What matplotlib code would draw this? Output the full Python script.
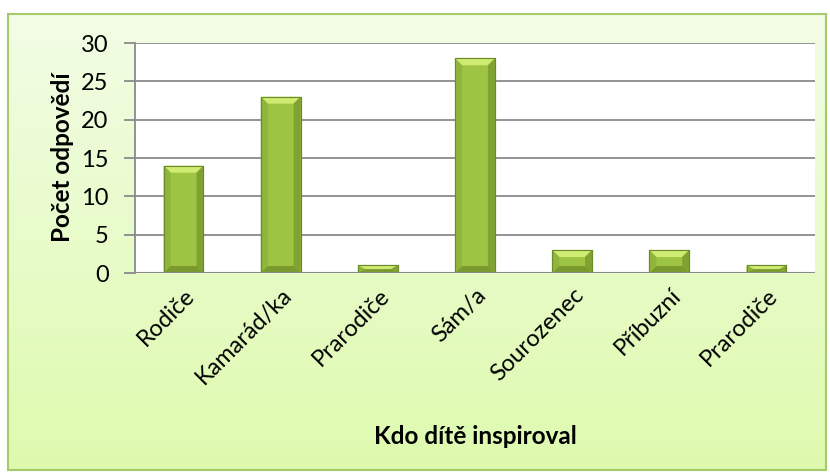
import numpy as np
import matplotlib
matplotlib.use("Agg")
import matplotlib.pyplot as plt
import matplotlib.transforms as mtransforms
from matplotlib.patches import Rectangle, Polygon

kategorie = ["Rodiče", "Kamarád/ka", "Prarodiče", "Sám/a", "Sourozenec", "Příbuzní", "Prarodiče"]
pocty = [14, 23, 1, 28, 3, 3, 1]
y_ticks = [0, 5, 10, 15, 20, 25, 30]

plt.rcParams['font.family'] = ['Lato', 'DejaVu Sans']

W, H = 830, 475
fig = plt.figure(figsize=(W / 100, H / 100), dpi=100)
fig.patch.set_facecolor("white")

# chart frame with gradient
x0, y0, x1, y1 = 8, 14, 826, 470
bg = fig.add_axes([x0 / W, 1 - y1 / H, (x1 - x0) / W, (y1 - y0) / H], zorder=0)
grad = np.linspace(0, 1, 256)[:, None]
top = np.array([0.95, 0.99, 0.90])
bot = np.array([0.87, 0.98, 0.68])
img = top[None, None, :] * (1 - grad[:, :, None]) + bot[None, None, :] * grad[:, :, None]
bg.imshow(img, aspect="auto", extent=[0, 1, 0, 1])
bg.set_xticks([])
bg.set_yticks([])
for s in bg.spines.values():
    s.set_color("#a6c96a")
    s.set_linewidth(1.5)

# plot area
px0, px1, py0, py1 = 135, 815, 43, 273
ax = fig.add_axes([px0 / W, 1 - py1 / H, (px1 - px0) / W, (py1 - py0) / H], zorder=1)
ax.set_facecolor("white")
n = len(kategorie)
x = np.arange(n)
ax.set_xlim(-0.5, n - 0.5)
ax.set_ylim(0, 30)

bw = 0.41
bars = ax.bar(x, pocty, width=bw, color="#9dc443", edgecolor="#6f8f2a", linewidth=0.8, zorder=3)

# bevel effect
bev_px = 7
dx = bev_px / (px1 - px0) * n
dy = bev_px / (py1 - py0) * 30
for b in bars:
    bx, by, w_, h_ = b.get_x(), b.get_y(), b.get_width(), b.get_height()
    d_y = min(dy, h_ / 2)
    d_x = min(dx, w_ / 2)
    top_poly = [(bx, by + h_), (bx + w_, by + h_), (bx + w_ - d_x, by + h_ - d_y), (bx + d_x, by + h_ - d_y)]
    ax.add_patch(Polygon(top_poly, closed=True, facecolor="#cfeb72", edgecolor="none", zorder=4))
    left_poly = [(bx, by), (bx, by + h_), (bx + d_x, by + h_ - d_y), (bx + d_x, by + d_y)]
    ax.add_patch(Polygon(left_poly, closed=True, facecolor="#8fb53b", edgecolor="none", zorder=4))
    right_poly = [(bx + w_, by), (bx + w_, by + h_), (bx + w_ - d_x, by + h_ - d_y), (bx + w_ - d_x, by + d_y)]
    ax.add_patch(Polygon(right_poly, closed=True, facecolor="#80a232", edgecolor="none", zorder=4))
    bot_poly = [(bx, by), (bx + w_, by), (bx + w_ - d_x, by + d_y), (bx + d_x, by + d_y)]
    ax.add_patch(Polygon(bot_poly, closed=True, facecolor="#7a9a2e", edgecolor="none", zorder=4))
    ax.add_patch(Rectangle((bx, by), w_, h_, facecolor="none", edgecolor="#6a8a28", linewidth=0.8, zorder=5))

ax.set_yticks(y_ticks)
ax.yaxis.grid(True, color="#8a8a8a", linewidth=1.3, zorder=0)
ax.set_axisbelow(True)
ax.tick_params(axis="y", length=8, width=1.3, color="#8a8a8a", labelsize=17, pad=11)
ax.tick_params(axis="x", length=0, labelsize=17, pad=0)
ax.set_xticks(x)
ax.set_xticklabels(kategorie, rotation=45, ha="right", va="center", rotation_mode="anchor")
off = mtransforms.ScaledTranslation(8 / 100, -19 / 100, fig.dpi_scale_trans)
for lbl in ax.get_xticklabels():
    lbl.set_transform(lbl.get_transform() + off)
for k in ["top", "right", "bottom"]:
    ax.spines[k].set_visible(False)
ax.spines["left"].set_color("#8a8a8a")
ax.spines["left"].set_linewidth(1.3)
ax.axhline(0, color="#8a8a8a", linewidth=1.5, zorder=6)

fig.text(62 / W, 1 - 157 / H, "Počet odpovědí", rotation=90, ha="center", va="center",
         fontsize=17.5, fontweight="bold")
fig.text(475 / W, 1 - 436 / H, "Kdo dítě inspiroval", ha="center", va="center",
         fontsize=17.5, fontweight="bold")

fig.savefig("out.png", dpi=100)
